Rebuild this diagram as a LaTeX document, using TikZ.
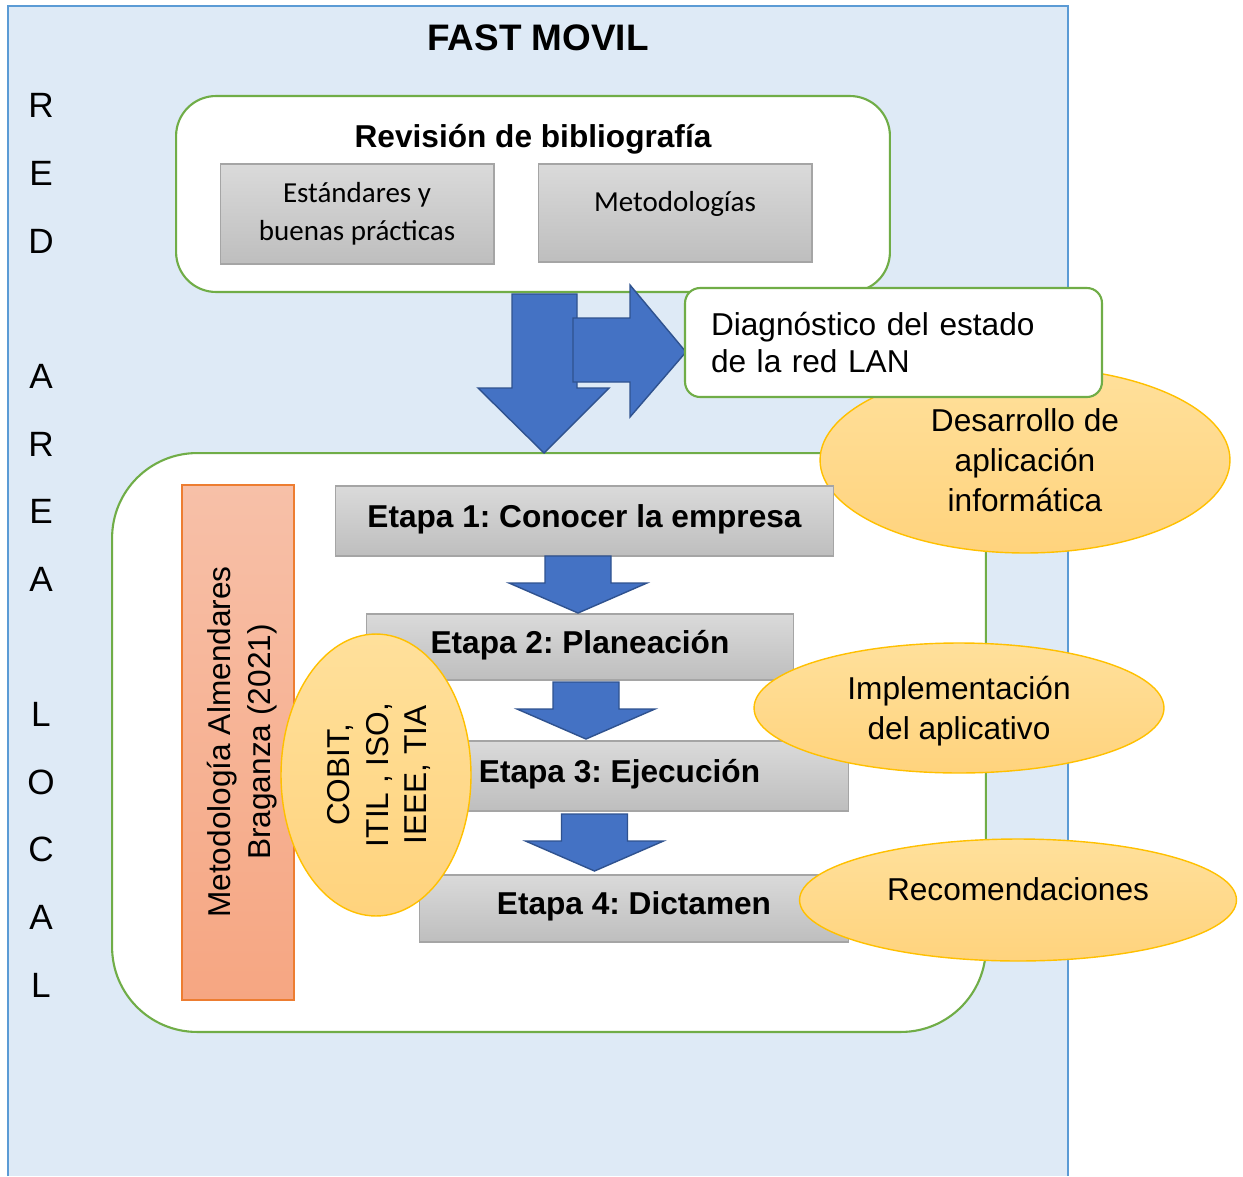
\documentclass[tikz,border=0pt]{standalone}
\usepackage{fontspec}
\setmainfont{Liberation Sans}
\newfontfamily\calibrifont{Carlito}
\usetikzlibrary{shapes}
\frenchspacing

\definecolor{bgblue}{RGB}{222,234,246}
\definecolor{edgeblue}{RGB}{91,155,213}
\definecolor{framegreen}{RGB}{112,173,71}
\definecolor{boxtop}{RGB}{218,218,218}
\definecolor{boxbottom}{RGB}{190,190,190}
\definecolor{edgegray}{RGB}{165,165,165}
\definecolor{arrowblue}{RGB}{68,114,196}
\definecolor{arrowedge}{RGB}{47,82,143}
\definecolor{bubbletop}{RGB}{255,224,155}
\definecolor{bubblebottom}{RGB}{255,211,125}
\definecolor{bubbleedge}{RGB}{255,192,0}
\definecolor{orangetop}{RGB}{247,192,168}
\definecolor{orangebottom}{RGB}{246,166,130}
\definecolor{orangeedge}{RGB}{237,125,49}

\tikzset{stagearrow/.pic={
    \draw[blockarrow] (-33,0) -- (33,0) -- (33,27) -- (69,27) -- (0,57) -- (-69,27) -- (-33,27) -- cycle;
}}

\begin{document}
\begin{tikzpicture}[x=0.02cm, y=-0.02cm, >=stealth]
    \tikzstyle{greenbox} = [rectangle, draw=framegreen, line width=1.2pt, fill=white, rounded corners=0.8cm]
    \tikzstyle{graybox} = [rectangle, draw=edgegray, line width=0.6pt, top color=boxtop, bottom color=boxbottom, inner sep=0pt]
    \tikzstyle{etapa} = [graybox, text depth=6pt, font=\bfseries\fontsize{18}{21.5}\selectfont]
    \tikzstyle{bubble} = [ellipse, draw=bubbleedge, line width=0.8pt, top color=bubbletop, bottom color=bubblebottom, inner sep=0pt, align=center, font=\fontsize{18}{22.7}\selectfont]
    \tikzstyle{blockarrow} = [fill=arrowblue, draw=arrowedge, line width=0.8pt, line join=miter]

    \useasboundingbox (0,0) rectangle (1243,1176);

    % Background
    \fill[bgblue] (8,6) rectangle (1068,1176);
    \draw[edgeblue, line width=0.7pt] (8,1176) -- (8,6) -- (1068,6) -- (1068,1176);
    \node[font=\bfseries\fontsize{21}{25}\selectfont] (title) at (538,38) {FAST MOVIL};
    \node[align=center, font=\fontsize{20}{38.5}\selectfont] (redlan) at (41,545.5)
        {R\\E\\D\\\mbox{}\\A\\R\\E\\A\\\mbox{}\\L\\O\\C\\A\\L};

    % Bibliography
    \node[greenbox, minimum width=14.28cm, minimum height=3.92cm] (biblio) at (533,194) {};
    \node[font=\bfseries\fontsize{18}{21.5}\selectfont] (biblioT) at (533,139) {Revisión de bibliografía};
    \node[graybox, minimum width=5.48cm, minimum height=2cm, align=center, font=\calibrifont\fontsize{16.5}{21.5}\selectfont] (estandares) at (357,214) {Estándares y\\buenas prácticas};
    \node[graybox, minimum width=5.48cm, minimum height=1.96cm, text depth=13.5pt, font=\calibrifont\fontsize{16.5}{21.5}\selectfont] (metodos) at (675,213) {Metodologías};

    % Stages frame
    \node[greenbox, rounded corners=1.7cm, minimum width=17.48cm, minimum height=11.58cm] (etapas) at (549,742.5) {};

    % Big arrows
    \draw[blockarrow] (512,294) -- (577,294) -- (577,388) -- (609,388) -- (544,453) -- (478,388) -- (512,388) -- cycle;
    \draw[blockarrow] (573,318) -- (630,318) -- (630,285) -- (686,352) -- (630,417) -- (630,382) -- (573,382) -- cycle;

    \node[bubble, minimum width=8.2cm, minimum height=3.72cm] (desarrollo) at (1025,460) {Desarrollo de\\aplicación\\informática};
    \node[greenbox, rounded corners=0.3cm, minimum width=8.34cm, minimum height=2.18cm, text width=7.3cm, align=left, font=\fontsize{18}{21.5}\selectfont] (diagnostico) at (893.5,342.5) {Diagnóstico del estado\\de la red LAN};

    % Methodology
    \node[rectangle, draw=orangeedge, line width=0.8pt, top color=orangetop, bottom color=orangebottom, minimum width=2.24cm, minimum height=10.3cm] (almendares) at (238,742.5) {};
    \node[rotate=90, align=center, font=\fontsize{18}{22.7}\selectfont] (almendaresT) at (242,742) {Metodología Almendares\\Braganza (2021)};

    % Stages
    \node[etapa, minimum width=9.98cm, minimum height=1.4cm] (etapa1) at (584.5,521) {Etapa 1: Conocer la empresa};
    \node[etapa, minimum width=8.56cm, minimum height=1.32cm] (etapa2) at (580,647) {Etapa 2: Planeación};
    \node[etapa, minimum width=9.18cm, minimum height=1.4cm] (etapa3) at (619.5,776) {Etapa 3: Ejecución};
    \node[etapa, minimum width=8.6cm, minimum height=1.34cm] (etapa4) at (634,908.5) {Etapa 4: Dictamen};
    \pic (arrow12) at (578,556) {stagearrow};
    \pic (arrow23) at (586,682) {stagearrow};
    \pic (arrow34) at (594.5,814) {stagearrow};

    % Bubbles
    \node[bubble, minimum width=3.8cm, minimum height=5.64cm] (cobit) at (376,775) {};
    \node[rotate=90, align=center, font=\fontsize{18}{22}\selectfont] (cobitT) at (379,775) {COBIT,\\ITIL , ISO,\\IEEE, TIA};
    \node[bubble, minimum width=8.2cm, minimum height=2.6cm, text depth=-3pt] (implementacion) at (959,708) {Implementación\\del aplicativo};
    \node[bubble, minimum width=8.74cm, minimum height=2.44cm, text depth=12pt] (recomendaciones) at (1018,900) {Recomendaciones};

\end{tikzpicture}
\end{document}
